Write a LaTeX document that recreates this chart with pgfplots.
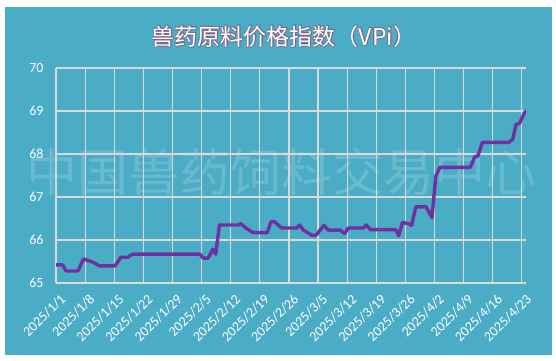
\documentclass[border=0pt]{standalone}
\usepackage{fontspec}
\setmainfont{Carlito}
\newfontfamily\cjk{Noto Sans CJK SC}
\usepackage{contour}
\usepackage{pgfplots}
\pgfplotsset{compat=1.18}

\definecolor{bgteal}{RGB}{75,172,198}
\definecolor{gridgray}{RGB}{217,217,217}
\definecolor{vpiline}{RGB}{112,48,160}
\definecolor{titleedge}{RGB}{125,105,135}

% VPi index, x = days since 2025/1/1
\pgfplotstableread{
day   vpi
0     65.42
1.6   65.42
2.4   65.28
5.3   65.28
6.6   65.56
9.0   65.48
10.4  65.40
14.2  65.40
15.6  65.60
17.3  65.60
18.4  65.67
34.6  65.67
35.4  65.58
36.6  65.58
37.7  65.79
38.4  65.67
39.3  66.35
43.8  66.35
44.4  66.38
45.8  66.27
47.4  66.17
50.8  66.17
51.7  66.43
52.6  66.42
54.2  66.28
57.9  66.28
58.5  66.35
59.5  66.23
61.5  66.11
62.5  66.11
64.4  66.34
65.5  66.23
68.3  66.23
69.4  66.15
70.3  66.28
73.9  66.28
74.6  66.35
75.6  66.24
81.7  66.24
82.4  66.10
83.3  66.41
84.7  66.38
85.5  66.34
86.5  66.77
89.0  66.77
90.4  66.52
91.3  67.48
92.3  67.69
99.6  67.69
100.7 67.94
101.4 67.95
102.5 68.27
108.8 68.27
109.8 68.34
110.6 68.69
111.4 68.71
112.8 68.99
}\vpidata

\begin{document}
\begin{tikzpicture}[x=1pt,y=1pt]
  % frame and chart area
  \fill[white] (0,0) rectangle (556,360);
  \fill[bgteal] (5,5) rectangle (552,353);
  % watermark
  \node[text=white, opacity=0.17, font=\cjk\fontsize{51}{51}\selectfont, inner sep=0pt] at (281,188) {中国兽药饲料交易中心};
  % title with a thin outline
  \contourlength{0.8pt}
  \contournumber{8}
  \node[text=white, font=\cjk\fontsize{23}{23}\selectfont, inner sep=0pt] at (284,323) {\contour{titleedge}{兽药原料价格指数（VPi）}};

  \begin{axis}[
    at={(56pt,77pt)}, anchor=south west,
    scale only axis, width=470pt, height=215pt,
    xmin=0, xmax=113, ymin=65, ymax=70,
    axis line style={draw=none},
    grid=major,
    major grid style={gridgray, line width=1.2pt},
    major tick length=0pt,
    xtick={0,7,...,112},
    xticklabels={2025/1/1,2025/1/8,2025/1/15,2025/1/22,2025/1/29,2025/2/5,2025/2/12,2025/2/19,2025/2/26,2025/3/5,2025/3/12,2025/3/19,2025/3/26,2025/4/2,2025/4/9,2025/4/16,2025/4/23},
    ytick={65,66,...,70},
    /pgf/number format/assume math mode=true,
    xticklabel style={text=white, font=\fontsize{14}{14}\selectfont, xshift=8pt, yshift=-13pt, rotate=45, anchor=east, inner sep=1pt},
    yticklabel style={text=white, font=\fontsize{14}{14}\selectfont, anchor=east, xshift=-9pt},
  ]
    \addplot[vpiline, line width=3.4pt, line join=round, line cap=round] table[x=day, y=vpi] {\vpidata};
  \end{axis}
\end{tikzpicture}
\end{document}
